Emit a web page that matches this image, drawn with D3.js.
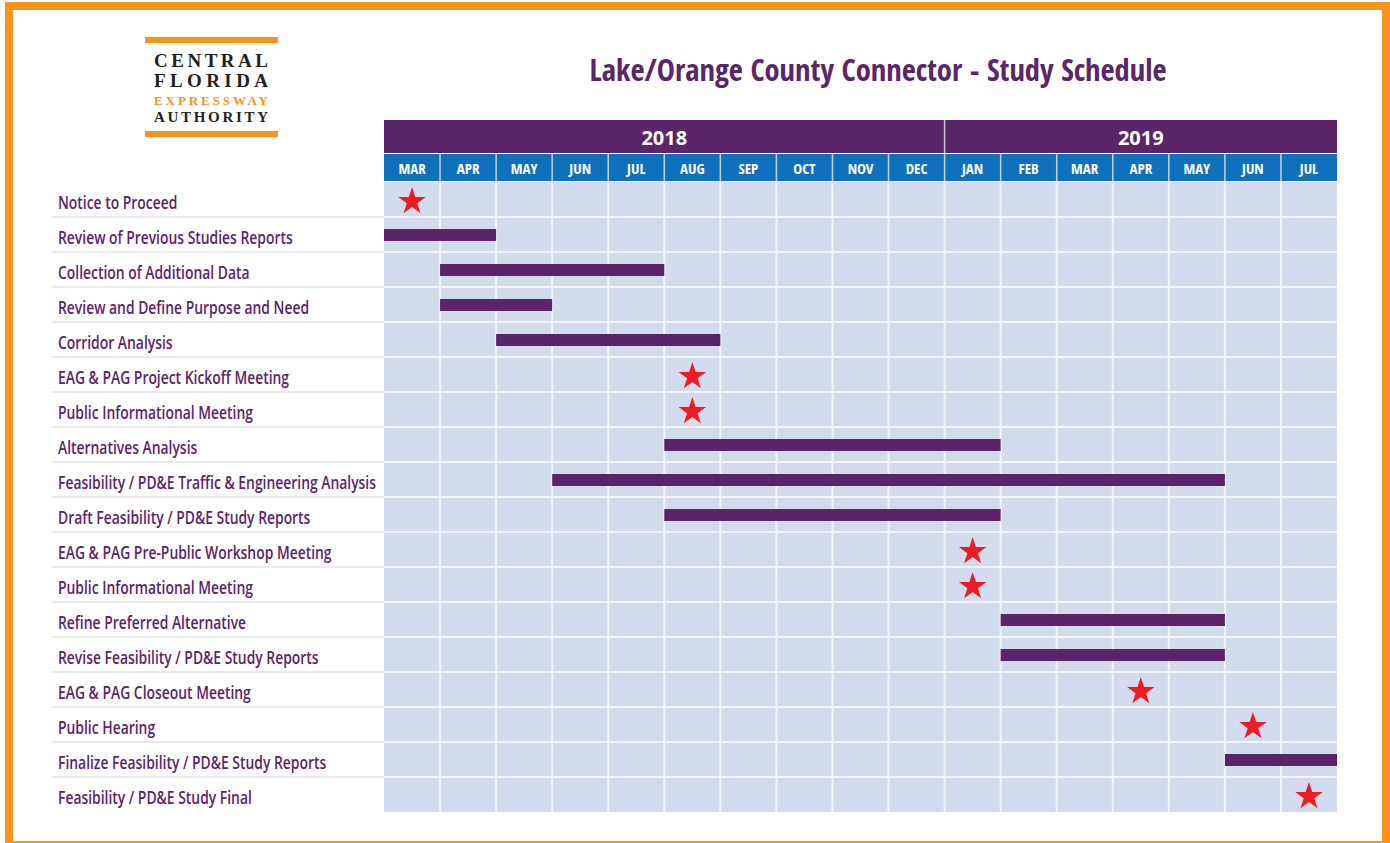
<!DOCTYPE html>
<html><head><meta charset="utf-8">
<script src="https://cdn.jsdelivr.net/npm/d3@7"></script>
<style>
html,body{margin:0;padding:0;background:#fff;}
svg{display:block;}
</style></head>
<body>
<svg id="chart" width="1390" height="843"></svg>
<script>
// ---- Data ----
const chartTitle = "Lake/Orange County Connector - Study Schedule";
const months = ["MAR","APR","MAY","JUN","JUL","AUG","SEP","OCT","NOV","DEC","JAN","FEB","MAR","APR","MAY","JUN","JUL"];
const yearLabels = ["2018","2019"];
const yearMonthCounts = [10,7];
const tasks = [
  "Notice to Proceed",
  "Review of Previous Studies Reports",
  "Collection of Additional Data",
  "Review and Define Purpose and Need",
  "Corridor Analysis",
  "EAG & PAG Project Kickoff Meeting",
  "Public Informational Meeting",
  "Alternatives Analysis",
  "Feasibility / PD&E Traffic & Engineering Analysis",
  "Draft Feasibility / PD&E Study Reports",
  "EAG & PAG Pre-Public Workshop Meeting",
  "Public Informational Meeting",
  "Refine Preferred Alternative",
  "Revise Feasibility / PD&E Study Reports",
  "EAG & PAG Closeout Meeting",
  "Public Hearing",
  "Finalize Feasibility / PD&E Study Reports",
  "Feasibility / PD&E Study Final"
];
const taskType  = ["star","bar","bar","bar","bar","star","star","bar","bar","bar","star","star","bar","bar","star","star","bar","star"];
const startMonth = [0,0,1,1,2,5,5,5,3,5,10,10,11,11,13,15,15,16];
const endMonth   = [0,1,4,2,5,5,5,10,14,10,10,10,14,14,13,15,16,16]; // inclusive
const logoLines = ["CENTRAL","FLORIDA","EXPRESSWAY","AUTHORITY"];

// ---- Styles ----
const PURPLE = "#5b2569", BLUE = "#1170bb", CELL = "#d3dcee", RED = "#ed1c24", ORANGE = "#f7941d";
const FONT = "'Liberation Sans Narrow','Open Sans Condensed','Roboto Condensed','Liberation Sans',sans-serif";
const LFONT = "'Open Sans','Noto Sans',sans-serif";

const svg = d3.select("#chart");

// frame
svg.append("rect").attr("x",9).attr("y",6).attr("width",1377).attr("height",839)
  .attr("fill","none").attr("stroke",ORANGE).attr("stroke-width",8);

// logo
const logo = svg.append("g");
logo.append("rect").attr("x",145).attr("y",37).attr("width",133).attr("height",6).attr("fill",ORANGE);
logo.append("rect").attr("x",145).attr("y",131).attr("width",133).attr("height",6).attr("fill",ORANGE);
const logoY = [67,87,105,122], logoSize=[19,19,13,15], logoCol=["#231f20","#231f20",ORANGE,"#231f20"];
logoLines.forEach((t,i)=>{
  logo.append("text").attr("x",154).attr("y",logoY[i]).text(t)
    .attr("font-family","'Liberation Serif','DejaVu Serif',serif").attr("font-size",logoSize[i])
    .attr("font-weight","bold")
    .attr("fill",logoCol[i]).attr("textLength",114).attr("lengthAdjust","spacing");
});

// scales
const x = d3.scaleLinear().domain([0, months.length]).range([384, 1337]);
const y = d3.scaleBand().domain(d3.range(tasks.length)).range([182, 812]).paddingInner(0);
const yearTop = 120, yearBottom = 153, monthTop = 154, monthBottom = 181;

// title
const title = svg.append("text").attr("x", 878).attr("y", 81).attr("text-anchor","middle")
  .attr("font-family",FONT).attr("font-weight","bold").attr("font-size",31).attr("fill",PURPLE).text(chartTitle);
{ const w = title.node().getComputedTextLength(); title.attr("font-size", 31*577/w); }

// year header
let acc = 0;
yearLabels.forEach((yl,i)=>{
  const a = acc, b = acc + yearMonthCounts[i];
  svg.append("rect").attr("x",x(a)).attr("y",yearTop).attr("width",x(b)-x(a)).attr("height",yearBottom-yearTop).attr("fill",PURPLE);
  svg.append("text").attr("x",(x(a)+x(b))/2).attr("y",yearTop+25).attr("text-anchor","middle")
    .attr("font-family","'Open Sans','Liberation Sans',sans-serif").attr("font-weight","bold").attr("font-size",20)
    .attr("fill","#fff").text(yl);
  acc = b;
});
svg.append("line").attr("x1",x(10)).attr("x2",x(10)).attr("y1",yearTop).attr("y2",yearBottom)
  .attr("stroke","#c9c2d6").attr("stroke-width",1.5);

// month header
svg.append("rect").attr("x",x(0)).attr("y",monthTop).attr("width",x(months.length)-x(0)).attr("height",monthBottom-monthTop).attr("fill",BLUE);
months.forEach((m,i)=>{
  svg.append("text").attr("x",x(i+0.5)).attr("y",monthTop+19.5).attr("text-anchor","middle")
    .attr("font-family",FONT).attr("font-weight","bold").attr("font-size",15).attr("fill","#fff").text(m);
});
d3.range(1, months.length).forEach(i=>{
  svg.append("line").attr("x1",x(i)).attr("x2",x(i)).attr("y1",monthTop).attr("y2",monthBottom)
    .attr("stroke","#bcd0ea").attr("stroke-width",1.5);
});

// grid body
svg.append("rect").attr("x",x(0)).attr("y",y(0)).attr("width",x(months.length)-x(0)).attr("height",y.step()*tasks.length).attr("fill",CELL);
d3.range(1, months.length).forEach(i=>{
  svg.append("line").attr("x1",x(i)).attr("x2",x(i)).attr("y1",y(0)).attr("y2",y(tasks.length-1)+y.bandwidth())
    .attr("stroke","#f2f4fa").attr("stroke-width",2);
});
d3.range(1, tasks.length).forEach(i=>{
  svg.append("line").attr("x1",x(0)).attr("x2",x(months.length)).attr("y1",y(i)).attr("y2",y(i))
    .attr("stroke","#f2f4fa").attr("stroke-width",2);
  svg.append("line").attr("x1",52).attr("x2",x(0)).attr("y1",y(i)).attr("y2",y(i))
    .attr("stroke","#e2e2ea").attr("stroke-width",1.5);
});

// labels (Open Sans, horizontally condensed to match the original narrow face)
const labels = svg.append("g").selectAll("text").data(tasks).join("text")
  .attr("x",58).attr("y",(d,i)=>y(i)+27)
  .attr("font-family",LFONT).attr("font-weight",600).attr("font-size",17.5).attr("fill",PURPLE).text(d=>d);
{ const widths = []; labels.each(function(){ widths.push(this.getComputedTextLength()); });
  const s = 318 / d3.max(widths);
  labels.attr("textLength",(d,i)=>widths[i]*s).attr("lengthAdjust","spacingAndGlyphs"); }

// bars
const barH = 12;
svg.append("g").selectAll("rect").data(d3.range(tasks.length).filter(i=>taskType[i]==="bar")).join("rect")
  .attr("x",i=>x(startMonth[i])).attr("width",i=>x(endMonth[i]+1)-x(startMonth[i]))
  .attr("y",i=>y(i)+y.bandwidth()/2-barH/2+0.5).attr("height",barH).attr("fill",PURPLE);

// stars
const star = d3.symbol().type(d3.symbolStar).size(235);
svg.append("g").selectAll("path").data(d3.range(tasks.length).filter(i=>taskType[i]==="star")).join("path")
  .attr("d",star).attr("fill",RED)
  .attr("transform",i=>`translate(${x(startMonth[i]+0.5)},${y(i)+y.bandwidth()/2+2})`);
</script>
</body></html>
